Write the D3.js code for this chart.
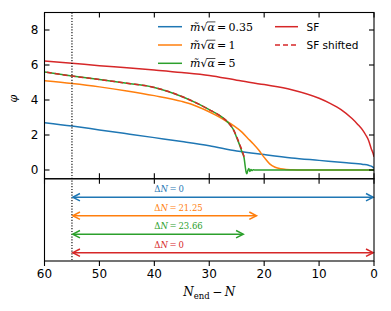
<!DOCTYPE html>
<html>
<head>
<meta charset="utf-8">
<script src="https://cdn.jsdelivr.net/npm/d3@7"></script>
<style>
  html, body { margin: 0; padding: 0; background: #fff; }
  svg { display: block; }
</style>
</head>
<body>
<svg id="chart" width="391" height="311"></svg>
<script>
// ---------- data ----------
const blueN   = [60, 55, 50, 45, 40, 35, 30, 25, 20, 15, 10, 5, 2, 1, 0.5, 0.2, 0];
const blueY   = [2.70, 2.51, 2.29, 2.07, 1.85, 1.63, 1.39, 1.09, 0.88, 0.69, 0.55, 0.41, 0.32, 0.27, 0.22, 0.16, 0.10];

const orangeN = [60, 55, 50, 45, 40, 35, 33, 31, 29, 27, 25.5, 24, 23, 22, 21, 20, 19, 18, 17, 16, 15, 14, 0];
const orangeY = [5.10, 4.94, 4.75, 4.52, 4.25, 3.92, 3.73, 3.47, 3.16, 2.81, 2.52, 2.15, 1.82, 1.50, 1.14, 0.72, 0.35, 0.16, 0.07, 0.03, 0.015, 0.005, 0];

const greenN  = [60, 55, 50, 45, 40, 35, 32, 30, 28, 27, 26, 25.5, 25, 24.5, 24, 23.66, 23.45, 23.3, 23.15, 23.0, 22.8, 22.6, 22.4, 22.2, 22.0, 21.5, 0];
const greenY  = [5.60, 5.37, 5.17, 4.96, 4.72, 4.20, 3.78, 3.45, 3.09, 2.85, 2.50, 2.25, 1.85, 1.45, 1.00, 0.70, 0.20, -0.10, -0.22, -0.05, 0.08, -0.08, 0.03, -0.03, 0.01, 0, 0];

const sfN     = [60, 55, 50, 45, 40, 35, 30, 25, 20, 15, 10, 8, 6, 4, 3, 2, 1.5, 1, 0.5, 0.2, 0];
const sfY     = [6.23, 6.10, 5.96, 5.84, 5.71, 5.57, 5.40, 5.13, 4.88, 4.59, 4.10, 3.81, 3.45, 2.94, 2.62, 2.25, 2.00, 1.70, 1.22, 0.98, 0.76];

const sfShiftN = [60, 55, 50, 45, 40, 35, 32, 30, 28, 27, 26, 25, 24.5, 24, 23.66];
const sfShiftY = [5.60, 5.37, 5.17, 4.96, 4.72, 4.20, 3.78, 3.45, 3.09, 2.85, 2.50, 1.90, 1.50, 1.10, 0.76];

const xTicks = [60, 50, 40, 30, 20, 10, 0];
const yTicks = [0, 2, 4, 6, 8];

const nStar = 55;                               // dotted vertical line
const arrowRows   = [4, 3, 2, 1];
const arrowEnds   = [0, 21.25, 23.66, 0];
const arrowLabels = ["0", "21.25", "23.66", "0"];
const legendVals  = ["0.35", "1", "5"];

const C = { blue: "#1f77b4", orange: "#ff7f0e", green: "#2ca02c", red: "#d62728" };
const seriesColors = [C.blue, C.orange, C.green, C.red];

// ---------- layout ----------
const svg = d3.select("#chart");
const L = 44.5, R = 374, T = 12.5, MID = 178.75, B = 261;

const x = d3.scaleLinear().domain([60, 0]).range([L, R]);
const y = d3.scaleLinear().domain([-0.5, 9]).range([MID, T]);
const y2 = d3.scaleLinear().domain([0.55, 5]).range([B, MID]);

svg.append("rect").attr("width", 391).attr("height", 311).attr("fill", "#fff");

svg.append("defs").append("clipPath").attr("id", "clipTop")
  .append("rect").attr("x", L).attr("y", T).attr("width", R - L).attr("height", MID - T);

const sansFont = "DejaVu Sans, sans-serif";
const serifFont = "DejaVu Serif, Liberation Serif, serif";

// ---------- curves ----------
const line = d3.line().x(d => x(d[0])).y(d => y(d[1])).curve(d3.curveMonotoneX);
const zip = (a, b) => a.map((v, i) => [v, b[i]]);
const gCurves = svg.append("g").attr("clip-path", "url(#clipTop)");

const curves = [
  { n: blueN, v: blueY, c: C.blue },
  { n: orangeN, v: orangeY, c: C.orange },
  { n: sfN, v: sfY, c: C.red },
  { n: greenN, v: greenY, c: C.green },
  { n: sfShiftN, v: sfShiftY, c: C.red, dash: "5,3" }
];
curves.forEach(s => {
  const pts = zip(s.n, s.v).sort((a, b) => a[0] - b[0]);
  gCurves.append("path").attr("d", line(pts))
    .attr("fill", "none").attr("stroke", s.c).attr("stroke-width", 1.5)
    .attr("stroke-dasharray", s.dash || null);
});

// ---------- dotted vertical line ----------
svg.append("line")
  .attr("x1", x(nStar)).attr("x2", x(nStar)).attr("y1", T).attr("y2", B)
  .attr("stroke", "#000").attr("stroke-width", 1.1).attr("stroke-dasharray", "1.2,1.6");

// ---------- arrows ----------
const gArr = svg.append("g");
arrowRows.forEach((r, i) => {
  const col = seriesColors[i];
  const yy = y2(r);
  const x0 = x(nStar), x1 = x(arrowEnds[i]);
  gArr.append("line").attr("x1", x0 + 1).attr("x2", x1 - 1).attr("y1", yy).attr("y2", yy)
    .attr("stroke", col).attr("stroke-width", 1.5);
  const hl = 8, hw = 3.7;
  gArr.append("path").attr("d", `M${x0 + hl},${yy - hw} L${x0 + 0.8},${yy} L${x0 + hl},${yy + hw}`)
    .attr("fill", "none").attr("stroke", col).attr("stroke-width", 1.5);
  gArr.append("path").attr("d", `M${x1 - hl},${yy - hw} L${x1 - 0.8},${yy} L${x1 - hl},${yy + hw}`)
    .attr("fill", "none").attr("stroke", col).attr("stroke-width", 1.5);
  const t = gArr.append("text").attr("x", x(40)).attr("y", yy - 5)
    .attr("fill", col).attr("font-family", serifFont).attr("font-size", 8.5);
  t.append("tspan").text("Δ");
  t.append("tspan").attr("font-style", "italic").text("N");
  t.append("tspan").text("\u2009=\u2009" + arrowLabels[i]);
});

// ---------- frames ----------
const frame = (y0, y1) => svg.append("rect").attr("x", L).attr("y", y0).attr("width", R - L).attr("height", y1 - y0)
  .attr("fill", "none").attr("stroke", "#000").attr("stroke-width", 1.1);
frame(T, MID);
frame(MID, B);

// ---------- ticks ----------
const tk = svg.append("g").attr("stroke", "#000").attr("stroke-width", 1.1);
xTicks.forEach(v => {
  const xx = x(v);
  tk.append("line").attr("x1", xx).attr("x2", xx).attr("y1", T).attr("y2", T + 5);
  tk.append("line").attr("x1", xx).attr("x2", xx).attr("y1", MID - 5.5).attr("y2", MID + 5);
  tk.append("line").attr("x1", xx).attr("x2", xx).attr("y1", B).attr("y2", B + 5);
});
yTicks.forEach(v => {
  const yy = y(v);
  tk.append("line").attr("x1", L).attr("x2", L + 5).attr("y1", yy).attr("y2", yy);
  tk.append("line").attr("x1", R - 5).attr("x2", R).attr("y1", yy).attr("y2", yy);
});

// tick labels
const lab = svg.append("g").attr("font-family", sansFont).attr("font-size", 12).attr("fill", "#000");
xTicks.forEach(v => {
  lab.append("text").attr("x", x(v)).attr("y", B + 17).attr("text-anchor", "middle").text(d3.format("d")(v));
});
yTicks.forEach(v => {
  lab.append("text").attr("x", L - 6).attr("y", y(v) + 4.3).attr("text-anchor", "end").text(v);
});

// axis labels
const xl = svg.append("text").attr("x", (L + R) / 2).attr("y", 296)
  .attr("text-anchor", "middle").attr("font-family", serifFont).attr("font-size", 12);
xl.append("tspan").attr("font-style", "italic").text("N");
xl.append("tspan").attr("font-size", 8.5).attr("dy", 2.5).text("end");
xl.append("tspan").attr("dy", -2.5).text("\u2009\u2212\u2009");
xl.append("tspan").attr("font-style", "italic").text("N");

svg.append("text").attr("transform", `translate(17,${(T + MID) / 2 + 3}) rotate(-90)`)
  .attr("text-anchor", "middle").attr("font-family", serifFont).attr("font-style", "italic")
  .attr("font-size", 11).text("φ");

// ---------- legend ----------
const lg = svg.append("g");
const rowsY = [26.7, 45, 63.3];
legendVals.forEach((v, i) => {
  const yy = rowsY[i];
  lg.append("line").attr("x1", 158).attr("x2", 182).attr("y1", yy).attr("y2", yy)
    .attr("stroke", seriesColors[i]).attr("stroke-width", 1.5);
  const t = lg.append("text").attr("x", 190).attr("y", yy + 4)
    .attr("font-family", serifFont).attr("font-size", 11).attr("fill", "#000");
  t.append("tspan").attr("font-style", "italic").text("m\u0303");
  t.append("tspan").text("√");
  t.append("tspan").attr("font-style", "italic").text("α");
  t.append("tspan").text("\u2009=\u2009" + v);
  // overline over alpha (square root bar)
  const node = t.node();
  const str = node.textContent;
  const ia = str.indexOf("α");
  const is = str.indexOf("√");
  const ea = node.getExtentOfChar(ia);
  const es = node.getExtentOfChar(is);
  lg.append("line").attr("x1", es.x + es.width - 0.5).attr("x2", ea.x + ea.width + 0.5)
    .attr("y1", es.y + 1.2).attr("y2", es.y + 1.2).attr("stroke", "#000").attr("stroke-width", 0.7);
});
[["SF", null], ["SF shifted", "5,3"]].forEach((d, i) => {
  const yy = rowsY[i];
  lg.append("line").attr("x1", 275).attr("x2", 298).attr("y1", yy).attr("y2", yy)
    .attr("stroke", C.red).attr("stroke-width", 1.5).attr("stroke-dasharray", d[1]);
  lg.append("text").attr("x", 306.5).attr("y", yy + 4).attr("font-family", sansFont)
    .attr("font-size", 10.5).text(d[0]);
});
</script>
</body>
</html>
